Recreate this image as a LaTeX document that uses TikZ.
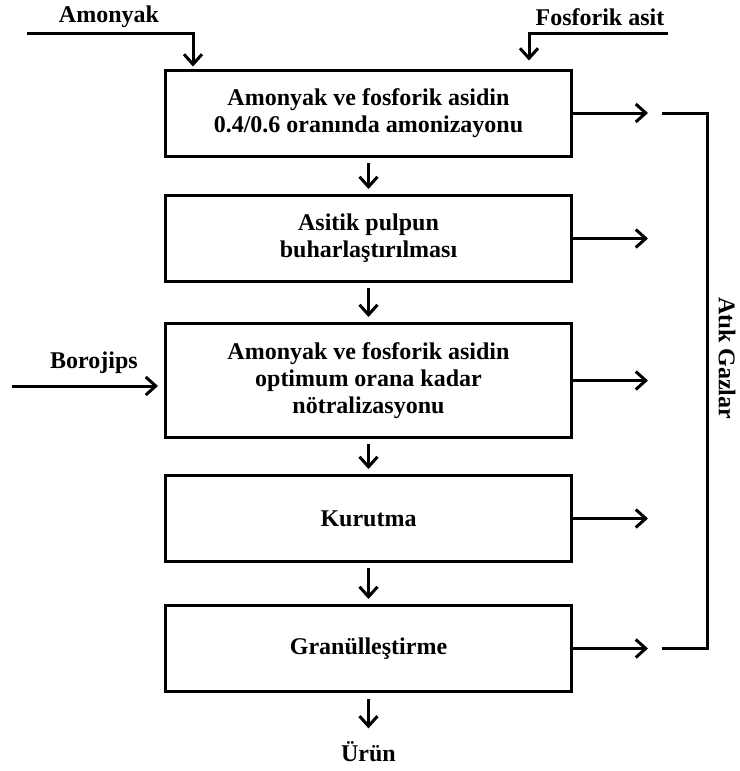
\documentclass[tikz,border=0pt]{standalone}
\usepackage{fontspec}
\setmainfont{Liberation Serif}
\usetikzlibrary{arrows.meta,positioning}

\begin{document}
\begin{tikzpicture}[x=1pt, y=-1pt, line width=3pt, -{Straight Barb[length=10pt,width=18pt]},
      every node/.append style={font=\fontsize{24}{27}\selectfont\bfseries, align=center},
      node distance=37pt]
  \tikzstyle{unit} = [draw, rectangle, minimum width=406pt, minimum height=86pt, inner sep=0pt]
  \tikzstyle{word} = [inner sep=0pt]
  \useasboundingbox (0,0) rectangle (739,771);
  % process steps
  \node (amonize) [unit] at (368.5,113) {Amonyak ve fosforik asidin\\0.4/0.6 oranında amonizayonu};
  \node (buhar) [unit, below=36.5pt of amonize] {Asitik pulpun\\buharlaştırılması};
  \node (notral) [unit, minimum height=114pt, below=39pt of buhar] {Amonyak ve fosforik asidin\\optimum orana kadar\\nötralizasyonu};
  \node (kurut) [unit, below=35pt of notral] {Kurutma};
  \node (granul) [unit, below=41pt of kurut] {Granülleştirme};
  \node (urun) [word] at (368.5,752) {Ürün};
  % inputs
  \node (amonyak) [word] at (109,17) {Amonyak};
  \node (fosforik) [word] at (600,17) {Fosforik asit};
  \node (borojips) [word] at (94,363) {Borojips};
  \coordinate (amstart) at (27,33);
  \coordinate (amturn) at (193,33);
  \coordinate (fostart) at (668,33);
  \coordinate (foturn) at (529,33);
  \coordinate (bostart) at (12,386);
  \draw[shorten >=2pt] (amstart) -- (amturn) -- (amturn |- amonize.north);
  \draw[shorten >=8pt] (fostart) -- (foturn) -- (foturn |- amonize.north);
  \draw[shorten >=6pt] (bostart) -- (bostart -| notral.west);
  % main line
  \draw[shorten <=5pt, shorten >=5pt] (amonize) -- (buhar);
  \draw[shorten <=5pt, shorten >=5pt] (buhar) -- (notral);
  \draw[shorten <=5pt, shorten >=5pt] (notral) -- (kurut);
  \draw[shorten <=5pt, shorten >=5pt] (kurut) -- (granul);
  \draw[shorten <=6pt, shorten >=12pt] (granul) -- (urun);
  % waste gases
  \foreach \stage/\n in {amonize/1, buhar/2, notral/3, kurut/4, granul/5}
    \coordinate (gaz\n) at ([xshift=75pt]\stage.east);
  \foreach \n in {1,...,5}
    \draw (gaz\n -| amonize.east) -- (gaz\n);
  \coordinate (top1) at ([xshift=14pt]gaz1);
  \coordinate (top2) at ([xshift=59pt]gaz1);
  \coordinate (bot1) at ([xshift=14pt]gaz5);
  \coordinate (bot2) at ([xshift=59pt]gaz5);
  \draw[-] (top1) -- (top2) -- (bot2) -- (bot1);
  \node (atik) [word, rotate=-90] at (727,358) {Atık Gazlar};
\end{tikzpicture}
\end{document}
